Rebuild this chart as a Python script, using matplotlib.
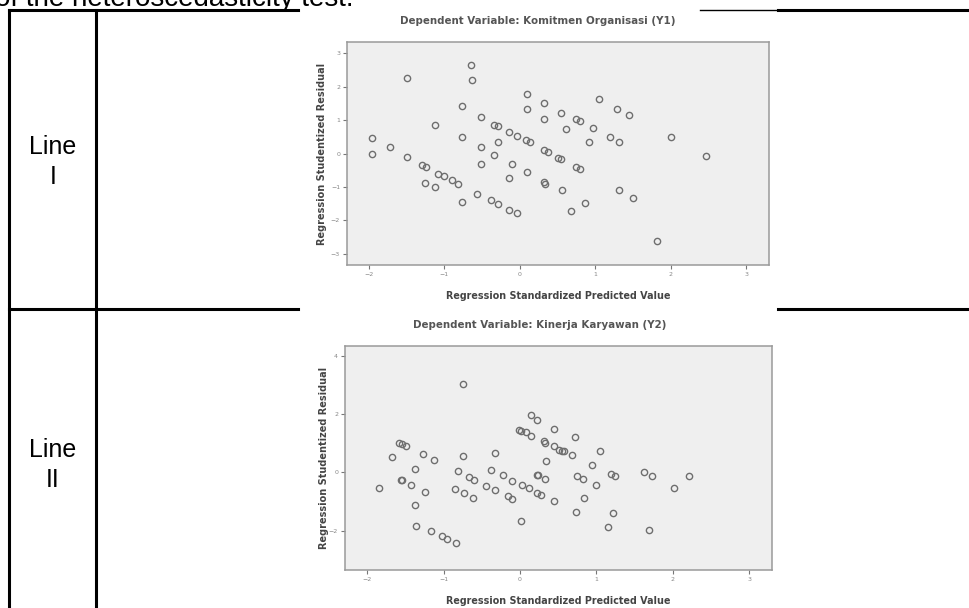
import matplotlib
matplotlib.use("Agg")
import matplotlib.pyplot as plt

W, H = 970, 608

# Line I : Komitmen Organisasi (Y1)
pred_1 = [-1.96, -1.96, -1.72, -1.49, -1.49, -1.30, -1.25, -1.26, -1.13, -1.13,
          -1.08, -1.01, -0.90, -0.82, -0.77, -0.77, -0.77, -0.65, -0.63, -0.57,
          -0.52, -0.52, -0.52, -0.38, -0.34, -0.29, -0.29, -0.34, -0.29, -0.15,
          -0.15, -0.15, -0.10, -0.04, -0.04, 0.08, 0.13, 0.09, 0.09, 0.09,
          0.32, 0.32, 0.32, 0.37, 0.32, 0.33, 0.51, 0.55, 0.55, 0.56,
          0.61, 0.68, 0.74, 0.79, 0.75, 0.79, 0.86, 0.91, 0.97, 1.05,
          1.20, 1.28, 1.31, 1.31, 1.45, 1.50, 1.82, 2.00, 2.47]
resid_1 = [0.45, -0.02, 0.18, 2.25, -0.10, -0.33, -0.40, -0.87, -1.00, 0.85,
           -0.60, -0.67, -0.80, -0.90, 1.42, 0.48, -1.45, 2.65, 2.20, -1.20,
           1.08, 0.18, -0.30, -1.40, 0.85, 0.82, 0.35, -0.05, -1.50, 0.65,
           -0.73, -1.68, -0.32, 0.53, -1.78, 0.40, 0.33, 1.77, 1.32, -0.55,
           1.50, 1.03, 0.10, 0.05, -0.85, -0.90, -0.12, -0.17, 1.22, -1.10,
           0.72, -1.73, 1.02, 0.97, -0.40, -0.45, -1.48, 0.33, 0.75, 1.62,
           0.48, 1.32, 0.35, -1.10, 1.15, -1.32, -2.60, 0.48, -0.08]

# Line II : Kinerja Karyawan (Y2)
pred_2 = [-1.85, -1.68, -1.58, -1.54, -1.49, -1.56, -1.54, -1.42, -1.37, -1.38,
          -1.36, -1.27, -1.24, -1.13, -1.16, -1.02, -0.95, -0.84, -0.81, -0.85,
          -0.74, -0.74, -0.73, -0.67, -0.62, -0.60, -0.44, -0.38, -0.33, -0.32,
          -0.22, -0.16, -0.11, -0.11, -0.01, 0.02, 0.08, 0.14, 0.14, 0.23,
          0.03, 0.12, 0.01, 0.22, 0.24, 0.33, 0.22, 0.28, 0.31, 0.33,
          0.34, 0.44, 0.45, 0.44, 0.51, 0.55, 0.58, 0.68, 0.72, 0.74,
          0.75, 0.82, 0.84, 0.94, 0.99, 1.05, 1.15, 1.19, 1.25, 1.22,
          1.62, 1.73, 1.69, 2.02, 2.21]
resid_2 = [-0.54, 0.51, 1.01, 0.97, 0.89, -0.27, -0.27, -0.42, 0.11, -1.11,
           -1.83, 0.61, -0.69, 0.43, -2.00, -2.19, -2.29, -2.42, 0.03, -0.57,
           3.03, 0.55, -0.71, -0.17, -0.88, -0.25, -0.48, 0.07, 0.66, -0.62,
           -0.10, -0.82, -0.91, -0.29, 1.46, 1.43, 1.37, 1.26, 1.98, 1.78,
           -0.45, -0.54, -1.66, -0.08, -0.08, -0.22, -0.71, -0.77, 1.06, 1.01,
           0.40, 0.89, 1.49, -0.97, 0.78, 0.74, 0.72, 0.58, 1.20, -1.36,
           -0.14, -0.23, -0.88, 0.26, -0.42, 0.72, -1.87, -0.05, -0.14, -1.39,
           0.01, -0.14, -1.97, -0.54, -0.14]

titles = ["Dependent Variable: Komitmen Organisasi (Y1)",
          "Dependent Variable: Kinerja Karyawan (Y2)"]
row_labels = ["Line\nI", "Line\nII"]
x_ticks = [-2, -1, 0, 1, 2, 3]
y_ticks_1 = [-3, -2, -1, 0, 1, 2, 3]
y_ticks_2 = [-2, 0, 2, 4]


def box(l, t, r, b):
    return [l / W, 1 - b / H, (r - l) / W, (b - t) / H]


fig = plt.figure(figsize=(W / 100, H / 100), dpi=100)
bg = fig.add_axes([0, 0, 1, 1])
bg.set_xlim(0, W)
bg.set_ylim(H, 0)
bg.axis("off")

# table lines (the chart pictures sit on top of them)
lw = 2.2
bg.plot([9, 298], [10, 10], color="black", lw=lw)
bg.plot([700, 778], [10, 10], color="black", lw=1.0)
bg.plot([778, 970], [10, 10], color="black", lw=lw)
bg.plot([9, 298], [309, 309], color="black", lw=lw)
bg.plot([778, 970], [309, 309], color="black", lw=lw)
bg.plot([9.5, 9.5], [10, 608], color="black", lw=lw)
bg.plot([96, 96], [10, 608], color="black", lw=lw)

bg.text(-5, 6.5, "of the heteroscedasticity test.", fontsize=20,
        family="Liberation Sans", va="baseline", ha="left")
bg.text(53, 162, row_labels[0], fontsize=18, family="Liberation Sans",
        ha="center", va="center", linespacing=1.33)
bg.text(53, 465, row_labels[1], fontsize=18, family="Liberation Sans",
        ha="center", va="center", linespacing=1.33)

panels = [
    (box(347, 42, 769, 265), pred_1, resid_1, titles[0], y_ticks_1,
     (-3.33, 3.33), 0.4526, -0.047),
    (box(345, 346, 772, 570), pred_2, resid_2, titles[1], y_ticks_2,
     (-3.35, 4.33), 0.457, -0.037),
]

for rect, px, py, title, yt, ylim, tx, ylx in panels:
    ax = fig.add_axes(rect)
    ax.set_facecolor("#efefef")
    ax.plot(px, py, "o", ms=4.5, mfc="none", mec="#6e6e6e", mew=1.0)
    ax.set_xlim(-2.29, 3.3)
    ax.set_ylim(*ylim)
    ax.set_xticks(x_ticks)
    ax.set_yticks(yt)
    ax.tick_params(direction="out", length=3, width=0.8, color="#777777",
                   labelsize=4.5, labelcolor="#888888", pad=2)
    for s in ax.spines.values():
        s.set_color("#9a9a9a")
        s.set_linewidth(1.1)
    ax.set_title(title, fontsize=7.35, fontweight="bold", color="#555555",
                 pad=13, x=tx)
    ax.set_xlabel("Regression Standardized Predicted Value", fontsize=6.9,
                  fontweight="bold", color="#444444", labelpad=10)
    ax.set_ylabel("Regression Studentized Residual", fontsize=7.05,
                  fontweight="bold", color="#444444")
    ax.yaxis.set_label_coords(ylx, 0.5)

fig.savefig("out.png", dpi=100)
